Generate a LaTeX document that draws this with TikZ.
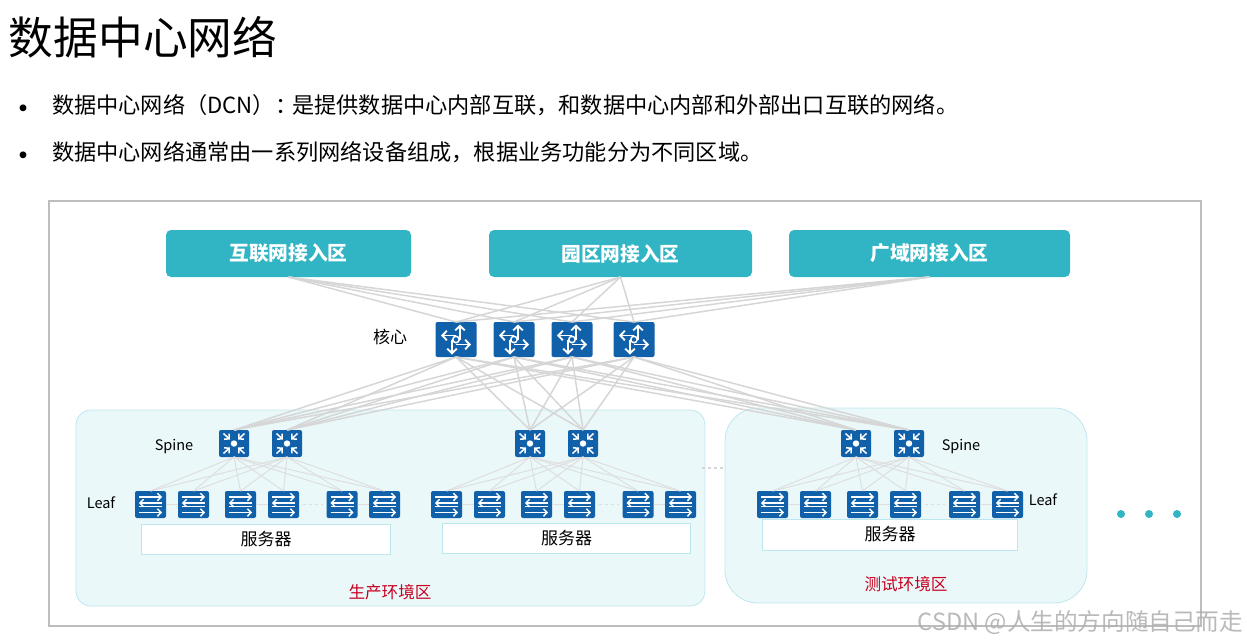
\documentclass[tikz,border=0pt]{standalone}
\usepackage{fontspec}
\setmainfont{Noto Sans CJK SC}
\usetikzlibrary{arrows.meta,positioning}
\definecolor{DcnTeal}{HTML}{31B5C4}
\definecolor{DcnBlue}{HTML}{1160AA}
\definecolor{DcnZone}{HTML}{EAF8FA}
\definecolor{DcnEdge}{HTML}{BDE7EE}
\definecolor{DcnFrame}{HTML}{BDBDBD}
\definecolor{DcnLink}{HTML}{D6D6D6}
\definecolor{DcnThin}{HTML}{DEDEDE}
\definecolor{DcnRed}{HTML}{C8001E}

\begin{document}
\begin{tikzpicture}[
    x=1pt, y=-1pt,
    every node/.style={outer sep=0pt, inner sep=0pt},
    whitearrow/.style={draw=white, line width=1.5pt,
      -{Straight Barb[length=3.5pt,width=7.5pt]}},
    corearrow/.style={draw=white, line width=1.9pt,
      -{Straight Barb[length=4.5pt,width=9.5pt]}},
    access/.style={rounded corners=5pt, fill=DcnTeal, text=white, minimum height=47pt,
      font=\fontsize{19.7}{23}\selectfont\bfseries},
    corebox/.style={rounded corners=2pt, fill=DcnBlue, minimum width=41pt, minimum height=35pt,
      path picture={
        \begin{scope}[shift={(path picture bounding box.center)}]
          \draw[corearrow] (4,0) -- (4,-15);
          \draw[corearrow] (0,5) -- (15,5);
          \draw[corearrow] (-4,0) -- (-4,15);
          \draw[corearrow] (0,-4) -- (-15,-4);
          \draw[draw=white, line width=1.5pt] (0,0) circle (3.2pt);
        \end{scope}}},
    spinebox/.style={rounded corners=2pt, fill=DcnBlue, minimum width=30pt, minimum height=27pt,
      path picture={
        \begin{scope}[shift={(path picture bounding box.center)}]
          \draw[whitearrow] (-10.5,-10) -- (-4,-4);
          \draw[whitearrow] (10.5,-10) -- (4,-4);
          \draw[whitearrow] (-10.5,10) -- (-4,4);
          \draw[whitearrow] (10.5,10) -- (4,4);
          \fill[white] (0,0) circle (3.2pt);
        \end{scope}}},
    leafbox/.style={rounded corners=2pt, fill=DcnBlue, minimum width=31pt, minimum height=27pt,
      path picture={
        \begin{scope}[shift={(path picture bounding box.center)}]
          \draw[whitearrow] (-11.5,-7.5) -- (11.5,-7.5);
          \draw[whitearrow] (11.5,-1.5) -- (-11.5,-1.5);
          \draw[draw=white, line width=1.3pt] (-11.5,2) -- (11.5,2);
          \draw[whitearrow] (-11.5,8) -- (11.5,8);
        \end{scope}}},
    zone/.style={draw=DcnEdge, fill=DcnZone, line width=0.8pt},
    server/.style={draw=DcnEdge, fill=white, line width=0.8pt, font=\fontsize{17}{20}\selectfont},
    tier/.style={font=\fontsize{14.5}{17}\selectfont},
    zonename/.style={text=DcnRed, font=\fontsize{16.6}{20}\selectfont},
    bullet/.style={anchor=west, font=\fontsize{22.2}{26}\selectfont},
    bulletdot/.style={anchor=west, font=\fontsize{32}{38}\selectfont},
    uplink/.style={draw=DcnLink, line width=1.5pt},
    downlink/.style={draw=DcnThin, line width=1pt},
    moredot/.style={circle, fill=DcnTeal, minimum size=8pt}
  ]
    \useasboundingbox (0,0) rectangle (1247,641);

    \node[anchor=west, font=\fontsize{44.7}{52}\selectfont] (title) at (9,37) {数据中心网络};
    \node[bulletdot] (dotone) at (8,113) {•};
    \node[bullet] (lineone) at (52,105) {数据中心网络（DCN）：\hspace{-5pt}是提供数据中心内部互联，和数据中心内部和外部出口互联的网络。};
    \node[bulletdot] (dottwo) at (8,160) {•};
    \node[bullet] (linetwo) at (52,152) {数据中心网络通常由一系列网络设备组成，根据业务功能分为不同区域。};

    \node[draw=DcnFrame, line width=2pt, minimum width=1152pt, minimum height=425pt] (frame) at (625,413.5) {};

    \node[zone, rounded corners=15pt, minimum width=629pt, minimum height=196pt] (prodzone) at (390.5,508) {};
    \node[zone, rounded corners=33pt, minimum width=362pt, minimum height=195pt] (testzone) at (906,505.5) {};

    \node[access, minimum width=245pt] (inet) at (288.5,253.5) {互联网接入区};
    \node[access, minimum width=263pt] (campus) at (620.5,253.5) {园区网接入区};
    \node[access, minimum width=281pt] (wan) at (929.5,253.5) {广域网接入区};

    \node[corebox] (core1) at (456,339.5) {};
    \node[corebox, right=17pt of core1] (core2) {};
    \node[corebox, right=17pt of core2] (core3) {};
    \node[corebox, right=21pt of core3] (core4) {};
    \node[font=\fontsize{17}{20}\selectfont] (corename) at (390,337) {核心};

    \node[spinebox] (spinea1) at (234,443.5) {};
    \node[spinebox, right=23pt of spinea1] (spinea2) {};
    \node[spinebox] (spineb1) at (530,443.5) {};
    \node[spinebox, right=23pt of spineb1] (spineb2) {};
    \node[spinebox] (spinec1) at (856,443.5) {};
    \node[spinebox, right=23pt of spinec1] (spinec2) {};
    \node[tier] (spinename) at (174,447) {Spine};
    \node[tier] (spinenametest) at (961,447) {Spine};

    \node[leafbox] (leafa1) at (150.5,504.5) {};
    \node[leafbox, right=12pt of leafa1] (leafa2) {};
    \node[leafbox, right=16pt of leafa2] (leafa3) {};
    \node[leafbox, right=12pt of leafa3] (leafa4) {};
    \node[leafbox, right=27.5pt of leafa4] (leafa5) {};
    \node[leafbox, right=11.5pt of leafa5] (leafa6) {};

    \node[leafbox] (leafb1) at (446.5,504.5) {};
    \node[leafbox, right=12pt of leafb1] (leafb2) {};
    \node[leafbox, right=16pt of leafb2] (leafb3) {};
    \node[leafbox, right=12pt of leafb3] (leafb4) {};
    \node[leafbox, right=27.5pt of leafb4] (leafb5) {};
    \node[leafbox, right=11.5pt of leafb5] (leafb6) {};

    \node[leafbox] (leafc1) at (772.5,504.5) {};
    \node[leafbox, right=12pt of leafc1] (leafc2) {};
    \node[leafbox, right=16pt of leafc2] (leafc3) {};
    \node[leafbox, right=12pt of leafc3] (leafc4) {};
    \node[leafbox, right=28pt of leafc4] (leafc5) {};
    \node[leafbox, right=12pt of leafc5] (leafc6) {};
    \node[tier] (leafname) at (101,503) {Leaf};
    \node[tier] (leafnametest) at (1043,500) {Leaf};

    \node[server, minimum width=249pt, minimum height=30pt] (servera) at (266,539) {服务器};
    \node[server, minimum width=248pt, minimum height=30pt] (serverb) at (566.5,538) {服务器};
    \node[server, minimum width=255pt, minimum height=31pt] (serverc) at (890,534.5) {服务器};

    \node[zonename] (prodname) at (390,592) {生产环境区};
    \node[zonename] (testname) at (906,584) {测试环境区};

    \foreach \acc in {inet,campus,wan}
      \foreach \c in {1,...,4}
        \draw[uplink] (\acc.south) -- (core\c.north);

    \foreach \c in {1,...,4}
      \foreach \g in {a,b,c}
        \foreach \s in {1,2}
          \draw[uplink] (core\c.south) -- (spine\g\s.north);

    \foreach \g in {a,b,c} {
      \foreach \s in {1,2}
        \foreach \l in {1,...,6}
          \draw[downlink] (spine\g\s.south) -- (leaf\g\l.north);
      \draw[downlink] (leaf\g1) -- (leaf\g2);
      \draw[downlink] (leaf\g3) -- (leaf\g4);
      \draw[downlink, dashed, shorten >=4pt, shorten <=4pt] (leaf\g4) -- (leaf\g5);
      \draw[downlink] (leaf\g5) -- (leaf\g6);
    }

    \coordinate (gapleft) at (702,468);
    \coordinate (gapright) at (724,468);
    \draw[draw=DcnLink, line width=2.5pt, dash pattern=on 3pt off 3pt] (gapleft) -- (gapright);

    \node[moredot] (more1) at (1121,514) {};
    \node[moredot] (more2) at (1149,514) {};
    \node[moredot] (more3) at (1177,514) {};

    \node[anchor=east, text=black!32, opacity=.85, font=\fontsize{23.6}{28}\selectfont] (mark) at (1243,623) {CSDN @人生的方向随自己而走};
  \end{tikzpicture}
\end{document}
